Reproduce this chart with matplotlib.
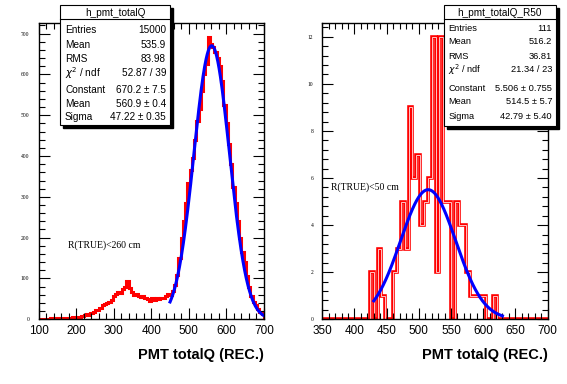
import numpy as np
import matplotlib
matplotlib.use("Agg")
import matplotlib.pyplot as plt
from matplotlib.ticker import MultipleLocator
from matplotlib.patches import Rectangle
from matplotlib.lines import Line2D

# histogram binning (same for both plots): 100 bins of 6 from 100 to 700
bin_lo = 100
bin_w = 6
n_bins = 100

# h_pmt_totalQ, bin contents from 100 upwards
left_counts = [0, 0, 1, 0, 1, 2, 1, 2, 3, 2,
               3, 3, 2, 4, 3, 5, 4, 6, 5, 8,
               10, 12, 11, 15, 18, 22, 24, 28, 35, 37,
               40, 43, 48, 58, 62, 66, 65, 74, 80, 93,
               76, 68, 60, 61, 56, 55, 57, 52, 50, 44,
               51, 48, 52, 50, 53, 51, 56, 62, 60, 70,
               84, 108, 150, 200, 240, 285, 335, 365, 395, 440,
               485, 515, 560, 600, 625, 692, 675, 668, 655, 640,
               620, 585, 525, 480, 430, 380, 325, 285, 240, 200,
               165, 140, 105, 80, 58, 42, 35, 25, 18, 12]

# h_pmt_totalQ_R50, non-empty part starting at 424
right_start = 424
right_counts = [2, 0, 3, 1, 0, 0, 2, 3, 5, 3,
                9, 6, 7, 4, 5, 6, 12, 2, 12, 5,
                5, 0, 5, 4, 4, 2, 1, 1, 1, 1,
                0, 0, 1]

# gaus fit results from the stat boxes
left_fit = (670.2, 560.9, 47.22)
left_fit_range = (450, 700)
right_fit = (5.506, 514.5, 42.79)
right_fit_range = (430, 630)

left_stats = [("Entries", "15000"), ("Mean", "535.9"), ("RMS", "83.98"),
              (r"$\chi^{2}$ / ndf", "52.87 / 39"), ("Constant", "670.2 ± 7.5"),
              ("Mean", "560.9 ± 0.4"), ("Sigma", "47.22 ± 0.35")]
right_stats = [("Entries", "111"), ("Mean", "516.2"), ("RMS", "36.81"),
               (r"$\chi^{2}$ / ndf", "21.34 / 23"), ("Constant", "5.506 ± 0.755"),
               ("Mean", "514.5 ± 5.7"), ("Sigma", "42.79 ± 5.40")]

W, H = 567, 384
fig = plt.figure(figsize=(W / 100, H / 100), dpi=100)
fig.patch.set_facecolor("white")

def px(x0, y0, x1, y1):
    # pixel box (top-left origin) -> figure fraction rect
    return [x0 / W, 1 - y1 / H, (x1 - x0) / W, (y1 - y0) / H]

ax1 = fig.add_axes(px(38.5, 22.7, 264, 319.3))
ax2 = fig.add_axes(px(322.3, 22.7, 547.5, 319.3))

edges = bin_lo + bin_w * np.arange(n_bins + 1)
rc = np.zeros(n_bins)
i0 = (right_start - bin_lo) // bin_w
rc[i0:i0 + len(right_counts)] = right_counts

def gaus(p, rng):
    x = np.linspace(rng[0], rng[1], 400)
    return x, p[0] * np.exp(-0.5 * ((x - p[1]) / p[2]) ** 2)

def style(ax, xlim, ylim, xmaj, xmin, ymaj, ymin):
    ax.set_xlim(*xlim)
    ax.set_ylim(*ylim)
    ax.xaxis.set_major_locator(MultipleLocator(xmaj))
    ax.xaxis.set_minor_locator(MultipleLocator(xmin))
    ax.yaxis.set_major_locator(MultipleLocator(ymaj))
    ax.yaxis.set_minor_locator(MultipleLocator(ymin))
    ax.tick_params(which="both", direction="in", top=True, right=True, width=0.8)
    ax.tick_params(which="major", length=8)
    ax.tick_params(which="minor", length=4)
    ax.tick_params(axis="x", which="major", pad=4, labelsize=8.5)
    ax.tick_params(axis="y", which="major", pad=6.5, labelsize=4)
    for lab in ax.get_xticklabels():
        lab.set_family("Liberation Sans")
    for lab in ax.get_yticklabels():
        lab.set_family("Liberation Serif")
    for s in ax.spines.values():
        s.set_linewidth(1.0)
    ax.text(1.0, -0.12, "PMT totalQ (REC.)", transform=ax.transAxes, ha="right",
            va="center", fontsize=10.5, fontweight="bold", family="Liberation Sans")

# left
ax1.stairs(left_counts, edges, baseline=0, color="red", lw=2.2)
x, y = gaus(left_fit, left_fit_range)
ax1.plot(x, y, color="blue", lw=2.2)
style(ax1, (100, 700), (0, 1.05 * max(left_counts)), 100, 20, 100, 20)
ax1.text(178, 182, "R(TRUE)<260 cm", fontsize=7, family="Liberation Serif", va="center")

# right
ax2.stairs(rc, edges, baseline=0, color="red", lw=2.6)
ax2.stairs(rc, edges, baseline=0, color="#ffc4c4", lw=0.7)
x, y = gaus(right_fit, right_fit_range)
ax2.plot(x, y, color="blue", lw=2.2)
style(ax2, (350, 700), (0, 1.05 * max(right_counts)), 50, 10, 2, 0.4)
ax2.text(364, 5.6, "R(TRUE)<50 cm", fontsize=7, family="Liberation Serif", va="center")

def stats_box(x0, x1, y0, y1, title, rows, title_h, row_y, fs):
    fig.patches.append(Rectangle(((x0 + 3) / W, 1 - (y1 + 3) / H), (x1 - x0) / W, (y1 - y0) / H,
                                 transform=fig.transFigure, facecolor="black", edgecolor="black", zorder=10))
    fig.patches.append(Rectangle((x0 / W, 1 - y1 / H), (x1 - x0) / W, (y1 - y0) / H,
                                 transform=fig.transFigure, facecolor="white", edgecolor="black",
                                 lw=0.8, zorder=11))
    fig.lines.append(Line2D([x0 / W, x1 / W], [1 - (y0 + title_h) / H] * 2,
                            transform=fig.transFigure, color="black", lw=0.8, zorder=12))
    fig.text((x0 + x1) / 2 / W, 1 - (y0 + title_h / 2 + 0.5) / H, title, ha="center", va="center",
             fontsize=7.2, family="Liberation Sans", zorder=13)
    for (lab, val), yy in zip(rows, row_y):
        fig.text((x0 + 5) / W, 1 - yy / H, lab, ha="left", va="center",
                 fontsize=fs, family="Liberation Sans", zorder=13)
        fig.text((x1 - 4) / W, 1 - yy / H, val, ha="right", va="center",
                 fontsize=fs, family="Liberation Sans", zorder=13)

stats_box(60, 170, 5, 125, "h_pmt_totalQ", left_stats, 14,
          [30, 44.5, 59, 73.5, 90, 104, 117.5], 7.2)
stats_box(443.5, 556, 5, 126, "h_pmt_totalQ_R50", right_stats, 14,
          [28.5, 42, 56.5, 70, 88.5, 102, 116.5], 6.7)

fig.savefig("out.png", dpi=100, facecolor="white")
